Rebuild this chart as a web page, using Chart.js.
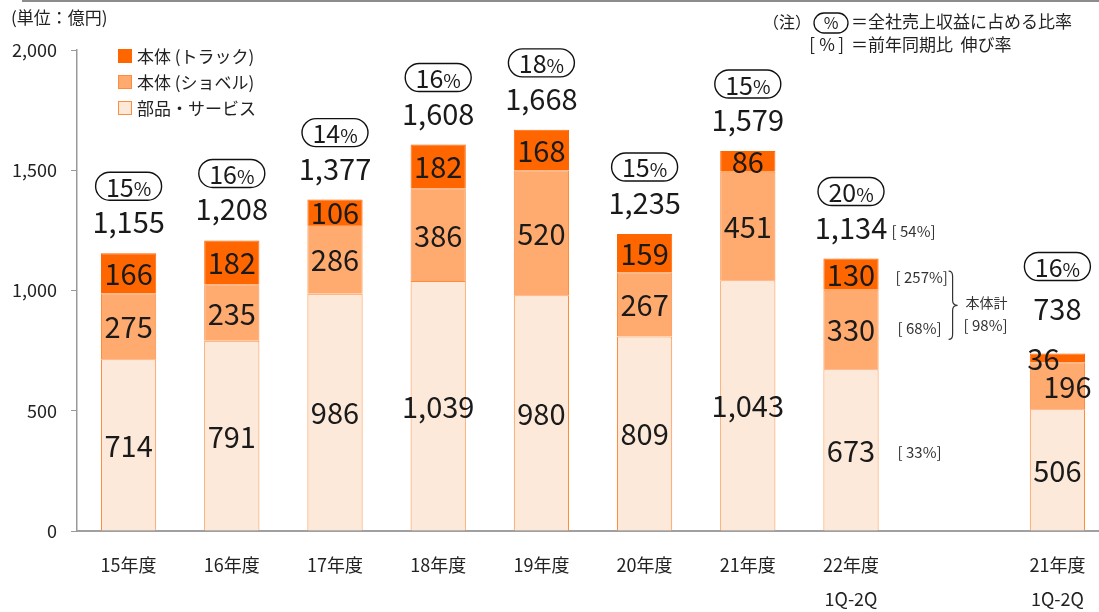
<!DOCTYPE html>
<html><head><meta charset="utf-8">
<script src="https://cdn.jsdelivr.net/npm/chart.js@4/dist/chart.umd.min.js"></script>
<style>html,body{margin:0;padding:0;overflow:hidden;background:#fff}#wrap{width:1099px;height:612px;overflow:hidden;position:relative}canvas{display:block}</style>
</head><body><div id="wrap"><canvas id="c" width="1109" height="612"></canvas></div>
<script>
const categories = ['15年度','16年度','17年度','18年度','19年度','20年度','21年度',['22年度','1Q-2Q'],'',['21年度','1Q-2Q']];
const partsValues  = [714, 791, 986, 1039, 980, 809, 1043, 673, null, 506];
const shovelValues = [275, 235, 286, 386, 520, 267, 451, 330, null, 196];
const truckValues  = [166, 182, 106, 182, 168, 159, 86, 130, null, 36];
const totalLabels  = ['1,155','1,208','1,377','1,608','1,668','1,235','1,579','1,134',null,'738'];
const shareLabels  = ['15','16','14','16','18','15','15','20',null,'16'];
const yTicks = [0, 500, 1000, 1500, 2000];
const seriesNames = ['部品・サービス','本体 (ショベル)','本体 (トラック)'];
const growthLabels = ['[ 54%]','[ 257%]','[ 68%]','[ 33%]'];
const bodyGrowthName = '本体計';
const bodyGrowthLabel = '[ 98%]';
const unitLabel = '(単位：億円)';
const noteLines = ['（注）','＝全社売上収益に占める比率','＝前年同期比  伸び率'];

const FONT = "'Noto Sans CJK JP','Noto Sans',sans-serif";
const colors = ['#FDE9D9','#FFAB70','#FF6600'];
const borders = ['#FF8B3D','#FF8B3D','#FF6600'];

function fmt(v){return v.toLocaleString('en-US');}

const overlay = {
  id:'overlay',
  afterDatasetsDraw(chart){
    const ctx = chart.ctx;
    ctx.save();
    // top line
    ctx.strokeStyle = '#8c8c8c'; ctx.lineWidth = 2;
    ctx.beginPath(); ctx.moveTo(22,1); ctx.lineTo(1109,1); ctx.stroke();
    // unit
    ctx.fillStyle = '#222'; ctx.font = `17px ${FONT}`; ctx.textBaseline='middle'; ctx.textAlign='left';
    ctx.fillText(unitLabel, 11, 18);
    // notes
    ctx.font = `16px ${FONT}`;
    ctx.textAlign='right'; ctx.fillText(noteLines[0], 811, 22);
    ctx.strokeStyle='#111'; ctx.lineWidth=1.3;
    ctx.beginPath(); ctx.roundRect(814,13,34,20,10); ctx.stroke();
    ctx.textAlign='center'; ctx.fillText('%', 831, 23);
    ctx.textAlign='left'; ctx.font = `17px ${FONT}`; ctx.fillText(noteLines[1], 851, 22);
    ctx.font = `17px ${FONT}`; ctx.textAlign='center';
    ctx.fillText('[', 812, 45); ctx.fillText('%', 827, 45); ctx.fillText(']', 841, 45);
    ctx.textAlign='left'; ctx.font = `17px ${FONT}`; ctx.fillText(noteLines[2], 851, 45);
    // legend
    const legendOrder = [2,1,0];
    legendOrder.forEach((di,k)=>{
      const cy = 56 + k*26;
      ctx.fillStyle = colors[di]; ctx.fillRect(118, cy-7, 14, 14);
      ctx.strokeStyle = borders[di]; ctx.lineWidth=1; ctx.strokeRect(118.5, cy-6.5, 13, 13);
      ctx.fillStyle = '#222'; ctx.font = `17px ${FONT}`; ctx.textAlign='left'; ctx.textBaseline='middle';
      ctx.fillText(seriesNames[di], 137, cy+1);
    });
    // segment labels
    const metas = [0,1,2].map(i=>chart.getDatasetMeta(i));
    const shifts = {9:[0,10,-14]};
    ctx.fillStyle = '#1a1a1a'; ctx.textAlign='center'; ctx.textBaseline='middle';
    ctx.font = `29px ${FONT}`;
    metas.forEach((meta,di)=>{
      const vals = chart.data.datasets[di].data;
      meta.data.forEach((el,j)=>{
        if (vals[j]==null) return;
        const dx = shifts[j] ? shifts[j][di] : 0;
        ctx.fillText(fmt(vals[j]), el.x + dx, (el.y + el.base)/2 + 1);
      });
    });
    // totals and ovals
    metas[2].data.forEach((el,j)=>{
      if (totalLabels[j]==null) return;
      const top = el.y;
      const small = (el.base - el.y) < 20;
      const ty = top - (small ? 45 : 31);
      const oy = top - (small ? 87 : 67);
      ctx.fillStyle='#1a1a1a'; ctx.font=`29px ${FONT}`; ctx.textAlign='center';
      ctx.fillText(totalLabels[j], el.x, ty);
      ctx.strokeStyle='#111'; ctx.lineWidth=1.4;
      ctx.beginPath(); ctx.roundRect(el.x-33, oy-14, 66, 28, 14); ctx.stroke();
      ctx.font=`25px ${FONT}`; const w1 = ctx.measureText(shareLabels[j]).width;
      ctx.font=`19px ${FONT}`; const w2 = ctx.measureText('%').width;
      const sx = el.x - (w1+w2)/2;
      ctx.textAlign='left';
      ctx.font=`25px ${FONT}`; ctx.fillText(shareLabels[j], sx, oy+1);
      ctx.font=`19px ${FONT}`; ctx.fillText('%', sx+w1, oy+3);
    });
    // growth annotations for 22年度
    const k = 7;
    const eT = metas[2].data[k], eS = metas[1].data[k], eP = metas[0].data[k];
    const right = eT.x + eT.width/2;
    ctx.font = `15px ${FONT}`; ctx.fillStyle='#333'; ctx.textAlign='left';
    ctx.fillText(growthLabels[0], right+13, eT.y - 27);
    const tC = (eT.y+eT.base)/2, sC = (eS.y+eS.base)/2, pC = (eP.y+eP.base)/2;
    ctx.fillText(growthLabels[1], right+17, tC+3);
    ctx.fillText(growthLabels[2], right+19, sC-1);
    ctx.fillText(growthLabels[3], right+19, pC+2);
    // brace
    const bx = right+74, bt = tC-3, bb = sC+10, bm = (bt+bb)/2;
    ctx.strokeStyle='#333'; ctx.lineWidth=1.2;
    ctx.beginPath();
    ctx.moveTo(bx-4, bt);
    ctx.quadraticCurveTo(bx, bt, bx, bt+5);
    ctx.lineTo(bx, bm-5);
    ctx.quadraticCurveTo(bx, bm, bx+5, bm);
    ctx.quadraticCurveTo(bx, bm, bx, bm+5);
    ctx.lineTo(bx, bb-5);
    ctx.quadraticCurveTo(bx, bb, bx-4, bb);
    ctx.stroke();
    ctx.font = `14px ${FONT}`;
    ctx.fillText(bodyGrowthName, bx+13, bm-3);
    ctx.font = `15px ${FONT}`;
    ctx.fillText(bodyGrowthLabel, bx+11, bm+20);
    ctx.restore();
  }
};

new Chart(document.getElementById('c'), {
  type:'bar',
  data:{
    labels: categories,
    datasets:[
      {label:seriesNames[0], data:partsValues, backgroundColor:colors[0], borderColor:borders[0], borderWidth:1},
      {label:seriesNames[1], data:shovelValues, backgroundColor:colors[1], borderColor:borders[1], borderWidth:1},
      {label:seriesNames[2], data:truckValues, backgroundColor:colors[2], borderColor:borders[2], borderWidth:1}
    ]
  },
  options:{
    responsive:false, animation:false, devicePixelRatio:1,
    layout:{padding:{top:50,left:0,right:0,bottom:0}},
    datasets:{bar:{barPercentage:0.535, categoryPercentage:1}},
    plugins:{legend:{display:false}, tooltip:{enabled:false}},
    scales:{
      x:{
        stacked:true,
        grid:{display:false, drawTicks:false},
        border:{display:true, color:'#a0a0a0', width:2},
        ticks:{color:'#222', padding:17, maxRotation:0, autoSkip:false, font:{family:FONT, size:18, lineHeight:1.89}},
        afterFit(s){ s.height = 81; }
      },
      y:{
        stacked:true, min:0, max:2000,
        afterBuildTicks(s){ s.ticks = yTicks.map(v=>({value:v})); },
        grid:{display:true, drawOnChartArea:false, drawTicks:true, tickLength:6, color:'#999'},
        border:{display:true, color:'#999', width:1.5},
        ticks:{color:'#222', padding:14, font:{family:FONT, size:18}, callback:v=>fmt(v)},
        afterFit(s){ s.width = 77; }
      }
    }
  },
  plugins:[overlay]
});
</script>
</body></html>
